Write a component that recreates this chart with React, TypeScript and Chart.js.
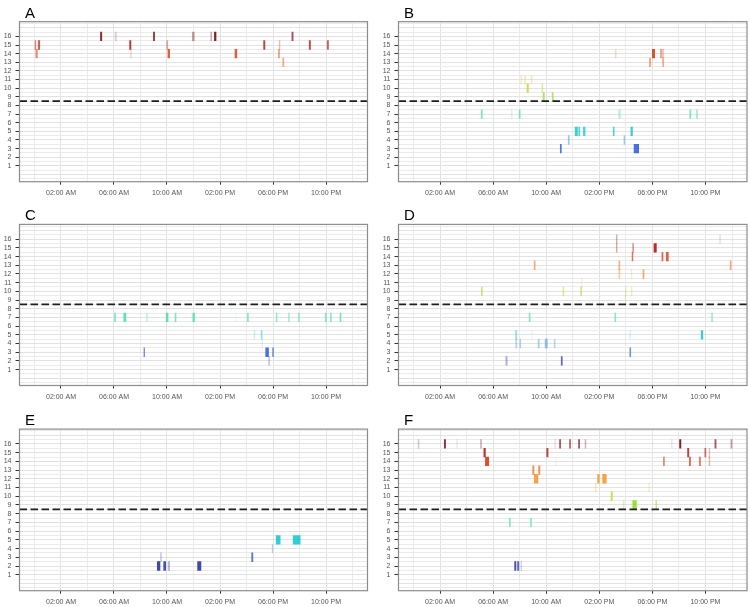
import React, { useEffect, useRef } from "react";
import { Chart, registerables } from "chart.js";

Chart.register(...registerables);

// ---- axes -------------------------------------------------------------
const HOUR_GRID = [0, 2, 4, 6, 8, 10, 12, 14, 16, 18, 20, 22, 24];
const HOUR_TICKS = [2, 6, 10, 14, 18, 22];
const HOUR_LABELS = ["02:00 AM", "06:00 AM", "10:00 AM", "02:00 PM", "06:00 PM", "10:00 PM"];
const LEVEL_TICKS = [1, 2, 3, 4, 5, 6, 7, 8, 9, 10, 11, 12, 13, 14, 15, 16];
const THRESHOLD = 8.5;

// level -> base colour (r, g, b)
const LEVEL_COLORS: Record<number, [number, number, number]> = {
  1: [72, 40, 140],
  2: [45, 52, 158],
  3: [52, 98, 220],
  4: [92, 165, 232],
  5: [28, 200, 210],
  6: [40, 210, 190],
  7: [72, 220, 172],
  8: [110, 225, 120],
  9: [142, 222, 40],
  10: [188, 218, 52],
  11: [240, 196, 92],
  12: [244, 148, 42],
  13: [238, 118, 50],
  14: [214, 70, 32],
  15: [178, 36, 30],
  16: [128, 20, 26],
};

// ---- panel A ------------------------------------------------------------
const aStart = [0.0, 0.1, 0.28, 4.98, 6.08, 7.18, 7.26, 8.97, 9.98, 10.07, 11.92, 13.3, 13.58, 15.13, 17.29, 18.4, 18.47, 18.73, 19.42, 20.73, 22.09];
const aEnd = [0.1, 0.22, 0.4, 5.08, 6.18, 7.28, 7.3, 9.07, 10.06, 10.2, 12.05, 13.37, 13.7, 15.27, 17.39, 18.5, 18.52, 18.82, 19.52, 20.83, 22.19];
const aLevel = [15, 14, 15, 16, 16, 15, 14, 16, 15, 14, 16, 16, 16, 14, 15, 14, 15, 13, 16, 15, 15];
const aWeight = [0.55, 0.6, 0.7, 0.9, 0.2, 0.9, 0.25, 0.8, 0.4, 0.85, 0.45, 0.35, 0.95, 0.85, 0.85, 0.45, 0.3, 0.6, 0.7, 0.8, 0.7];

// ---- panel B ------------------------------------------------------------
const bStart = [5.1, 7.38, 7.96, 8.09, 8.38, 8.55, 8.86, 9.68, 9.77, 10.45, 11.06, 11.66, 12.18, 12.45, 12.8, 15.05, 15.2, 15.47, 15.6, 15.86, 16.38, 16.62, 16.82, 17.77, 18.0, 18.6, 18.75, 18.77, 20.82, 21.32];
const bEnd = [5.18, 7.43, 8.04, 8.15, 8.45, 8.66, 8.93, 9.74, 9.86, 10.53, 11.14, 11.74, 12.36, 12.53, 12.93, 15.12, 15.27, 15.53, 15.64, 15.93, 16.5, 16.8, 16.97, 17.88, 18.17, 18.7, 18.86, 18.85, 20.9, 21.4];
const bLevel = [7, 7, 7, 11, 11, 10, 11, 10, 9, 9, 3, 4, 5, 5, 5, 5, 14, 7, 7, 4, 5, 3, 3, 13, 14, 14, 14, 13, 7, 7];
const bWeight = [0.75, 0.25, 0.7, 0.35, 0.4, 0.8, 0.4, 0.5, 0.75, 0.7, 0.85, 0.6, 0.85, 0.75, 0.8, 0.8, 0.2, 0.45, 0.25, 0.6, 0.85, 0.9, 0.9, 0.6, 0.95, 0.45, 0.3, 0.6, 0.7, 0.5];

// ---- panel C ------------------------------------------------------------
const cStart = [6.04, 6.74, 8.45, 9.94, 10.61, 11.95, 15.18, 16.07, 18.24, 19.17, 19.92, 21.94, 22.33, 23.06, 8.26, 16.57, 17.1, 17.18, 17.45, 17.68, 17.97];
const cEnd = [6.12, 6.9, 8.52, 10.08, 10.68, 12.08, 15.22, 16.14, 18.3, 19.23, 19.98, 22.02, 22.4, 23.13, 8.31, 16.63, 17.17, 17.22, 17.66, 17.73, 18.03];
const cLevel = [7, 7, 7, 7, 7, 7, 7, 7, 7, 7, 7, 7, 7, 7, 3, 5, 5, 4, 3, 2, 3];
const cWeight = [0.7, 0.85, 0.35, 0.85, 0.7, 0.8, 0.12, 0.7, 0.6, 0.55, 0.65, 0.65, 0.65, 0.75, 0.75, 0.25, 0.5, 0.2, 0.9, 0.35, 0.75];

// ---- panel D ------------------------------------------------------------
const dStart = [15.28, 15.28, 23.07, 16.52, 18.12, 16.47, 18.72, 19.05, 9.09, 15.47, 23.86, 15.47, 16.41, 17.29, 12.66, 5.11, 11.26, 12.6, 15.96, 16.41, 15.96, 8.71, 15.17, 22.46, 7.7, 16.3, 21.68, 8.9, 7.7, 8.01, 9.39, 9.92, 10.6, 16.3, 6.96, 11.13];
const dEnd = [15.34, 15.34, 23.13, 16.58, 18.3, 16.53, 18.8, 19.2, 9.17, 15.55, 23.94, 15.55, 16.46, 17.37, 12.71, 5.19, 11.33, 12.67, 16.02, 16.47, 16.02, 8.79, 15.24, 22.54, 7.78, 16.37, 21.8, 8.96, 7.78, 8.08, 9.47, 10.08, 10.67, 16.37, 7.06, 11.21];
const dLevel = [16, 15, 16, 15, 15, 14, 14, 14, 13, 13, 13, 12, 12, 12, 11, 10, 10, 10, 10, 10, 9, 7, 7, 7, 5, 5, 5, 5, 4, 4, 4, 4, 4, 3, 2, 2];
const dWeight = [0.35, 0.4, 0.15, 0.55, 0.95, 0.75, 0.8, 0.85, 0.6, 0.55, 0.65, 0.45, 0.2, 0.75, 0.25, 0.7, 0.55, 0.7, 0.35, 0.35, 0.25, 0.65, 0.65, 0.5, 0.5, 0.2, 0.9, 0.1, 0.45, 0.5, 0.55, 0.7, 0.45, 0.7, 0.4, 0.75];

// ---- panel E ------------------------------------------------------------
const eStart = [9.27, 9.75, 10.08, 9.52, 12.31, 16.39, 17.94, 18.24, 19.52];
const eEnd = [9.47, 9.9, 10.2, 9.57, 12.56, 16.48, 17.98, 18.54, 20.05];
const eLevel = [2, 2, 2, 3, 2, 3, 4, 5, 5];
const eWeight = [0.9, 0.85, 0.35, 0.4, 0.9, 0.85, 0.5, 0.9, 0.9];

// ---- panel F ------------------------------------------------------------
const fStart = [0.35, 2.32, 3.26, 5.05, 10.64, 11.01, 11.76, 12.44, 12.93, 19.44, 20.05, 22.71, 23.92, 5.3, 10.04, 20.65, 21.95, 22.27, 5.42, 10.7, 18.84, 20.79, 21.55, 22.27, 8.98, 9.43, 9.1, 13.87, 14.25, 13.69, 17.72, 14.89, 15.81, 16.52, 18.26, 7.23, 8.82, 7.62, 7.84, 8.1];
const fEnd = [0.41, 2.42, 3.3, 5.12, 10.69, 11.08, 11.83, 12.51, 12.99, 19.49, 20.15, 22.8, 24.0, 5.42, 10.14, 20.75, 22.03, 22.33, 5.67, 10.74, 18.9, 20.87, 21.62, 22.33, 9.08, 9.53, 9.38, 14.0, 14.53, 13.76, 17.78, 14.98, 15.87, 16.8, 18.32, 7.29, 8.88, 7.72, 7.94, 8.14];
const fLevel = [16, 16, 16, 16, 16, 16, 16, 16, 16, 16, 16, 16, 16, 15, 15, 15, 15, 15, 14, 14, 14, 14, 14, 14, 13, 13, 12, 12, 12, 11, 11, 10, 9, 9, 9, 7, 7, 2, 2, 2];
const fWeight = [0.25, 0.85, 0.12, 0.35, 0.15, 0.8, 0.7, 0.8, 0.35, 0.12, 0.95, 0.7, 0.45, 0.9, 0.85, 0.85, 0.65, 0.3, 0.95, 0.1, 0.75, 0.85, 0.8, 0.4, 0.8, 0.8, 0.85, 0.8, 0.85, 0.4, 0.25, 0.85, 0.35, 0.9, 0.6, 0.75, 0.75, 0.85, 0.75, 0.25];

// ---- layout -------------------------------------------------------------
const FONT = '"Liberation Sans", Arial, Helvetica, sans-serif';
const X_MIN = -1.13;
const X_MAX = 25.13;
const Y_MIN = -0.83;
const Y_MAX = 17.7;

const COLS = [
  { x: 0, plotLeft: 19.5, plotRight: 367.5, titleX: 25 },
  { x: 375, plotLeft: 398.5, plotRight: 747, titleX: 404 },
];
const ROWS = [
  { y: 0, h: 203, plotTop: 21.7, plotBottom: 181.7, titleTop: 5 },
  { y: 203, h: 205, plotTop: 224.4, plotBottom: 385.5, titleTop: 207 },
  { y: 408, h: 199, plotTop: 429.1, plotBottom: 590.7, titleTop: 412 },
];

type PanelSpec = {
  title: string;
  col: number;
  row: number;
  start: number[];
  end: number[];
  level: number[];
  weight: number[];
};

const PANELS: PanelSpec[] = [
  { title: "A", col: 0, row: 0, start: aStart, end: aEnd, level: aLevel, weight: aWeight },
  { title: "B", col: 1, row: 0, start: bStart, end: bEnd, level: bLevel, weight: bWeight },
  { title: "C", col: 0, row: 1, start: cStart, end: cEnd, level: cLevel, weight: cWeight },
  { title: "D", col: 1, row: 1, start: dStart, end: dEnd, level: dLevel, weight: dWeight },
  { title: "E", col: 0, row: 2, start: eStart, end: eEnd, level: eLevel, weight: eWeight },
  { title: "F", col: 1, row: 2, start: fStart, end: fEnd, level: fLevel, weight: fWeight },
];

const LEVEL_GRID: number[] = [];
for (let v = -0.5; v <= 17.5; v += 0.5) LEVEL_GRID.push(v);

const frameAndThreshold = {
  id: "frameAndThreshold",
  afterDatasetsDraw(chart: any) {
    const { ctx, chartArea } = chart;
    const { left, right, top, bottom } = chartArea;
    const yPix = chart.scales.y.getPixelForValue(THRESHOLD);
    ctx.save();
    ctx.beginPath();
    ctx.setLineDash([7.5, 3.5]);
    ctx.lineWidth = 1.8;
    ctx.strokeStyle = "#1e1e1e";
    ctx.moveTo(left, yPix);
    ctx.lineTo(right, yPix);
    ctx.stroke();
    ctx.setLineDash([]);
    ctx.lineWidth = 1.2;
    ctx.strokeStyle = "#8c8c8c";
    ctx.strokeRect(left, top, right - left, bottom - top);
    ctx.restore();
  },
};

function Panel({ spec }: { spec: PanelSpec }) {
  const ref = useRef<HTMLCanvasElement>(null);
  const col = COLS[spec.col];
  const row = ROWS[spec.row];

  useEffect(() => {
    const canvas = ref.current;
    if (!canvas) return;
    const unitPx = (row.plotBottom - row.plotTop) / (Y_MAX - Y_MIN);
    const colors = spec.level.map((lv, i) => {
      const [r, g, b] = LEVEL_COLORS[lv];
      return `rgba(${r},${g},${b},${spec.weight[i]})`;
    });
    const chart = new Chart(canvas, {
      type: "bar",
      data: {
        datasets: [
          {
            data: spec.level.map((lv, i) => ({ y: lv, x: [spec.start[i], spec.end[i]] })) as any,
            backgroundColor: colors,
            borderWidth: 0,
            barThickness: unitPx,
          },
        ],
      },
      options: {
        indexAxis: "y",
        animation: false,
        responsive: false,
        devicePixelRatio: 1,
        layout: {
          padding: {
            top: row.plotTop - row.y,
            right: col.x + 375 - col.plotRight,
            left: 0,
            bottom: 0,
          },
        },
        plugins: { legend: { display: false }, tooltip: { enabled: false } },
        scales: {
          x: {
            type: "linear",
            min: X_MIN,
            max: X_MAX,
            offset: false,
            afterBuildTicks: (scale: any) => {
              scale.ticks = HOUR_GRID.map((v) => ({ value: v }));
            },
            afterFit: (scale: any) => {
              scale.height = row.y + row.h - row.plotBottom;
            },
            ticks: {
              autoSkip: false,
              maxRotation: 0,
              minRotation: 0,
              padding: 4,
              color: "#555555",
              font: { family: FONT, size: 7 },
              callback: (value: any) => {
                const i = HOUR_TICKS.indexOf(Number(value));
                return i >= 0 ? HOUR_LABELS[i] : "";
              },
            },
            grid: {
              offset: false,
              drawTicks: true,
              tickLength: 3,
              color: (c: any) => (HOUR_TICKS.includes(c.tick?.value) ? "#e2e2e2" : "#ebebeb"),
              lineWidth: 1,
              tickColor: (c: any) => (HOUR_TICKS.includes(c.tick?.value) ? "#333333" : "rgba(0,0,0,0)"),
            },
            border: { display: false },
          },
          y: {
            type: "linear",
            min: Y_MIN,
            max: Y_MAX,
            offset: false,
            afterBuildTicks: (scale: any) => {
              scale.ticks = LEVEL_GRID.map((v) => ({ value: v }));
            },
            afterFit: (scale: any) => {
              scale.width = col.plotLeft - col.x;
            },
            ticks: {
              autoSkip: false,
              padding: 4,
              color: "#555555",
              font: { family: FONT, size: 7 },
              callback: (value: any) => (LEVEL_TICKS.includes(Number(value)) ? String(value) : ""),
            },
            grid: {
              offset: false,
              drawTicks: true,
              tickLength: 4,
              color: (c: any) => (Number.isInteger(c.tick?.value) ? "#e2e2e2" : "#ebebeb"),
              lineWidth: 1,
              tickColor: (c: any) => (LEVEL_TICKS.includes(c.tick?.value) ? "#333333" : "rgba(0,0,0,0)"),
            },
            border: { display: false },
          },
        },
      } as any,
      plugins: [frameAndThreshold],
    });
    return () => chart.destroy();
  }, [spec]);

  return (
    <>
      <canvas
        ref={ref}
        width={375}
        height={row.h}
        style={{ position: "absolute", left: col.x, top: row.y, width: 375, height: row.h }}
      />
      <div
        style={{
          position: "absolute",
          left: col.titleX,
          top: row.titleTop,
          fontFamily: FONT,
          fontSize: 15,
          lineHeight: "15px",
          color: "#000",
        }}
      >
        {spec.title}
      </div>
    </>
  );
}

export default function App() {
  return (
    <div
      style={{
        position: "absolute",
        left: 0,
        top: 0,
        width: 750,
        height: 607,
        background: "#ffffff",
        overflow: "hidden",
      }}
    >
      {PANELS.map((p) => (
        <Panel key={p.title} spec={p} />
      ))}
    </div>
  );
}
